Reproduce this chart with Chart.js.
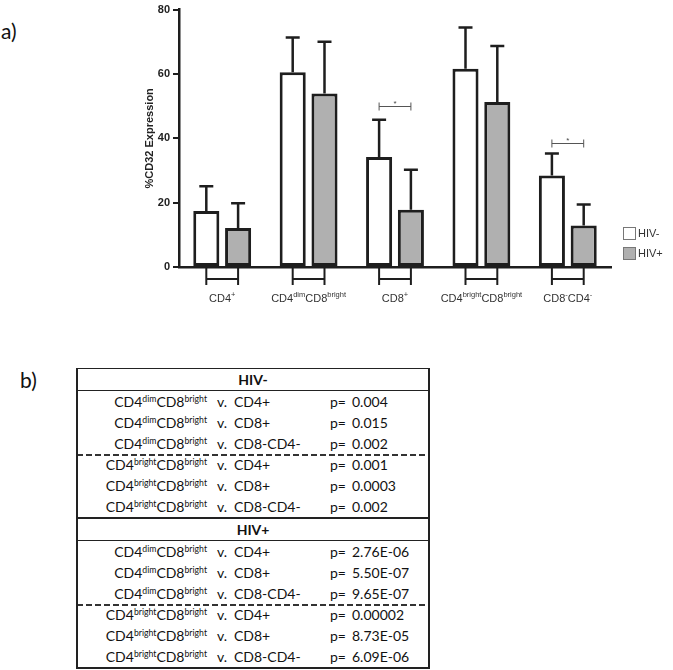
<!DOCTYPE html>
<html>
<head>
<meta charset="utf-8">
<script src="https://cdn.jsdelivr.net/npm/chart.js@4/dist/chart.umd.min.js"></script>
<style>
    body { margin: 0; background: #fff; width: 673px; height: 670px; position: relative; overflow: hidden; }
    .panel { position: absolute; font-family: Lato, sans-serif; font-size: 21px; color: #111; }
    #chartBox { position: absolute; left: 0; top: 0; }
    #tbl { position: absolute; left: 76px; top: 368px; }
    table { border-collapse: collapse; table-layout: fixed; width: 352px; font-family: Lato, sans-serif; font-size: 14px; color: #111;
            border-left: 2px solid #222; border-right: 2px solid #222; border-bottom: 2px solid #222; border-top: 1px solid #222; }
    td { padding: 0; height: 21px; white-space: nowrap; line-height: 14px; }
    tr.head td { text-align: center; font-weight: bold; border-bottom: 1px solid #222; height: 21px; }
    tr.head2 td { border-top: 2px solid #222; }
    tr.dashTop { background: repeating-linear-gradient(to right, #333 0 6px, transparent 6px 9px) left top / 100% 2px no-repeat; }
    td.c1 { text-align: right; padding-right: 4px; }
    td.c2 { padding-left: 6px; }
    td.c3 { padding-left: 2px; }
    td.c4 { padding-left: 2px; }
    td.c5 { padding-left: 4px; }
    sup { font-size: 0.62em; vertical-align: 0.6em; line-height: 0; }
</style>
</head>
<body>
<div class="panel" style="left:1px; top:18px;">a)</div>
<div class="panel" style="left:20px; top:367px;">b)</div>
<div id="chartBox"><canvas id="cd32Chart" width="673" height="312"></canvas></div>
<div id="tbl"></div>

<script>
// --- DATA ---
const categories = ['CD4^{+}', 'CD4^{dim}CD8^{bright}', 'CD8^{+}', 'CD4^{bright}CD8^{bright}', 'CD8^{-}CD4^{-}'];
const hivNeg = [17.4, 60.5, 34.2, 61.6, 28.4];
const hivNegErr = [7.7, 10.8, 11.6, 12.8, 6.9];
const hivPos = [12.1, 53.9, 17.8, 51.3, 12.9];
const hivPosErr = [7.7, 16.1, 12.4, 17.4, 6.5];
const yTicks = [0, 20, 40, 60, 80];

// significance brackets (category index, height, label)
const sigCats = [2, 4];
const sigLevels = [50.1, 38.6];
const sigLabels = ['*', '*'];

// table b)
const tableGroups = ['HIV-', 'HIV+'];
const tableRefs = ['CD4^{dim}CD8^{bright}', 'CD4^{dim}CD8^{bright}', 'CD4^{dim}CD8^{bright}',
                   'CD4^{bright}CD8^{bright}', 'CD4^{bright}CD8^{bright}', 'CD4^{bright}CD8^{bright}'];
const tableVs = ['CD4+', 'CD8+', 'CD8-CD4-', 'CD4+', 'CD8+', 'CD8-CD4-'];
const pHivNeg = ['0.004', '0.015', '0.002', '0.001', '0.0003', '0.002'];
const pHivPos = ['2.76E-06', '5.50E-07', '9.65E-07', '0.00002', '8.73E-05', '6.09E-06'];

const INK = '#1e1e1e';
const GREY = '#b0b0b0';

// --- helper: text with ^{superscript} ---
function splitParts(txt) {
    const parts = [];
    txt.replace(/\^\{([^}]*)\}|([^^]+)/g, (m, sup, norm) => {
        if (sup !== undefined) parts.push({ t: sup, sup: true });
        else parts.push({ t: norm, sup: false });
    });
    return parts;
}

function drawRich(ctx, txt, cx, y) {
    const parts = splitParts(txt);
    const fNorm = '11px Arial, "Liberation Sans", sans-serif';
    const fSup = '7.5px Arial, "Liberation Sans", sans-serif';
    let total = 0;
    parts.forEach(p => { ctx.font = p.sup ? fSup : fNorm; p.w = ctx.measureText(p.t).width; total += p.w; });
    let x = cx - total / 2;
    ctx.textAlign = 'left';
    ctx.textBaseline = 'alphabetic';
    parts.forEach(p => {
        ctx.font = p.sup ? fSup : fNorm;
        ctx.fillText(p.t, x, p.sup ? y - 5 : y);
        x += p.w;
    });
}

// --- plugin: error bars, brackets, labels, legend ---
const extrasPlugin = {
    id: 'extras',
    afterDatasetsDraw(chart) {
        const ctx = chart.ctx;
        const ys = chart.scales.y;
        const errs = [hivNegErr, hivPosErr];
        const vals = [hivNeg, hivPos];
        ctx.save();

        // error bars (upper only)
        ctx.strokeStyle = INK;
        ctx.lineWidth = 2.5;
        chart.data.datasets.forEach((ds, i) => {
            chart.getDatasetMeta(i).data.forEach((bar, j) => {
                const yTop = ys.getPixelForValue(vals[i][j] + errs[i][j]);
                ctx.beginPath();
                ctx.moveTo(bar.x, bar.y);
                ctx.lineTo(bar.x, yTop);
                ctx.moveTo(bar.x - 7, yTop);
                ctx.lineTo(bar.x + 7, yTop);
                ctx.stroke();
            });
        });

        // grouping brackets under the axis + category labels
        const base = chart.chartArea.bottom;
        const m0 = chart.getDatasetMeta(0).data;
        const m1 = chart.getDatasetMeta(1).data;
        ctx.lineWidth = 2;
        ctx.strokeStyle = INK;
        categories.forEach((c, j) => {
            const x0 = m0[j].x, x1 = m1[j].x;
            ctx.beginPath();
            ctx.moveTo(x0, base); ctx.lineTo(x0, base + 18);
            ctx.moveTo(x1, base); ctx.lineTo(x1, base + 18);
            ctx.moveTo(x0, base + 12); ctx.lineTo(x1, base + 12);
            ctx.stroke();
            ctx.fillStyle = '#333';
            drawRich(ctx, c, (x0 + x1) / 2, base + 35);
        });

        // significance brackets
        ctx.strokeStyle = '#555';
        ctx.lineWidth = 1;
        ctx.fillStyle = '#444';
        sigCats.forEach((j, k) => {
            const x0 = m0[j].x, x1 = m1[j].x;
            const y = Math.round(ys.getPixelForValue(sigLevels[k])) + 0.5;
            ctx.beginPath();
            ctx.moveTo(x0, y); ctx.lineTo(x1, y);
            ctx.moveTo(x0, y - 4); ctx.lineTo(x0, y + 4);
            ctx.moveTo(x1, y - 4); ctx.lineTo(x1, y + 4);
            ctx.stroke();
            ctx.font = '8px Arial, "Liberation Sans", sans-serif';
            ctx.textAlign = 'center';
            ctx.textBaseline = 'alphabetic';
            ctx.fillText(sigLabels[k], (x0 + x1) / 2, y - 1);
        });

        // legend
        const lx = chart.chartArea.right + 12;
        chart.data.datasets.forEach((ds, i) => {
            const ly = 227 + i * 20;
            ctx.fillStyle = ds.backgroundColor;
            ctx.fillRect(lx, ly, 12, 12);
            ctx.strokeStyle = '#777';
            ctx.lineWidth = 1;
            ctx.strokeRect(lx + 0.5, ly + 0.5, 12, 12);
            ctx.fillStyle = '#333';
            ctx.font = '11px Arial, "Liberation Sans", sans-serif';
            ctx.textAlign = 'left';
            ctx.textBaseline = 'middle';
            ctx.fillText(ds.label, lx + 15, ly + 7);
        });
        ctx.restore();
    }
};

const ctx = document.getElementById('cd32Chart').getContext('2d');
const cd32Chart = new Chart(ctx, {
    type: 'bar',
    data: {
        labels: categories,
        datasets: [
            { label: 'HIV-', data: hivNeg, backgroundColor: '#ffffff', borderColor: INK, borderWidth: 3, borderSkipped: false },
            { label: 'HIV+', data: hivPos, backgroundColor: GREY, borderColor: INK, borderWidth: 3, borderSkipped: false }
        ]
    },
    options: {
        responsive: false,
        animation: false,
        devicePixelRatio: 1,
        layout: { padding: { left: 143, right: 62, top: 6, bottom: 0 } },
        datasets: { bar: { categoryPercentage: 0.736, barPercentage: 0.82 } },
        plugins: { legend: { display: false }, tooltip: { enabled: false } },
        scales: {
            x: {
                grid: { display: false },
                border: { display: true, color: INK, width: 2.5 },
                ticks: { display: false },
                afterFit: s => { s.height = 45; }
            },
            y: {
                min: 0, max: 80,
                afterBuildTicks: s => { s.ticks = yTicks.map(v => ({ value: v })); },
                ticks: { color: '#222', padding: 3, font: { family: 'Arial, "Liberation Sans", sans-serif', size: 11, weight: 'bold' } },
                grid: { display: true, drawOnChartArea: false, drawTicks: true, tickLength: 6, color: INK, lineWidth: 2 },
                border: { display: true, color: INK, width: 2.5 },
                title: { display: true, text: '%CD32 Expression', color: '#222', padding: 0,
                         font: { family: 'Arial, "Liberation Sans", sans-serif', size: 11, weight: 'bold' } },
                afterFit: s => { s.width = 36; }
            }
        }
    },
    plugins: [extrasPlugin]
});

// --- table b) ---
function richHtml(txt) {
    return splitParts(txt).map(p => p.sup ? '<sup>' + p.t + '</sup>' : p.t).join('');
}

function buildTable() {
    let html = '<table><colgroup><col style="width:134px"><col style="width:21px"><col style="width:96px"><col style="width:20px"><col style="width:81px"></colgroup>';
    [pHivNeg, pHivPos].forEach((pv, g) => {
        html += '<tr class="head' + (g > 0 ? ' head2' : '') + '"><td colspan="5">' + tableGroups[g] + '</td></tr>';
        tableRefs.forEach((ref, r) => {
            html += '<tr' + (r === 3 ? ' class="dashTop"' : '') + '><td class="c1">' + richHtml(ref) + '</td><td class="c2">v.</td><td class="c3">' + tableVs[r] +
                    '</td><td class="c4">p=</td><td class="c5">' + pv[r] + '</td></tr>';
        });
    });
    html += '</table>';
    document.getElementById('tbl').innerHTML = html;
}
buildTable();
</script>
</body>
</html>
